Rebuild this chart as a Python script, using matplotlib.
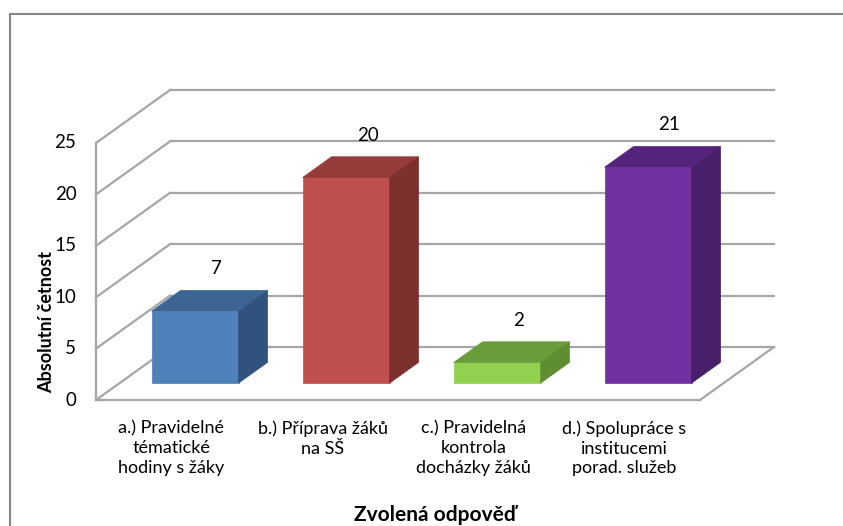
import matplotlib
matplotlib.use("Agg")
import matplotlib.pyplot as plt
from matplotlib.patches import Polygon, Rectangle

plt.rcParams["font.family"] = ["Lato", "DejaVu Sans"]

# data
categories = [
    "a.) Pravidelné\ntématické\nhodiny s žáky",
    "b.) Příprava žáků\nna SŠ",
    "c.) Pravidelná\nkontrola\ndocházky žáků",
    "d.) Spolupráce s\ninstitucemi\nporad. služeb",
]
values = [7, 20, 2, 21]
y_ticks = [0, 5, 10, 15, 20, 25]
front_colors = ["#4F81BD", "#C0504D", "#92D050", "#7030A0"]
top_colors = ["#3D6594", "#953B39", "#6A9D3A", "#56237C"]
side_colors = ["#30527C", "#7B302E", "#5E8E31", "#481F69"]
x_title = "Zvolená odpověď"
y_title = "Absolutní četnost"

# geometry of the oblique projection (front plane in data units)
W, H = 843, 526
PX0, PXW = 96, 151.0      # pixel x of category 0, pixels per category
PY0, PYS = 400, 10.28     # pixel y of value 0, pixels per value unit
DX = 74 / PXW             # depth offset in category units
DY = 53 / PYS             # depth offset in value units
Z0, Z1 = 0.32, 0.71       # bar depth range (fraction of floor depth)
HW = 0.288                # bar half width
GRID = "#A6A6A6"

fig = plt.figure(figsize=(W / 100, H / 100), dpi=100)
ax = fig.add_axes([0, 0, 1, 1])
ax.set_xlim(-PX0 / PXW, (W - PX0) / PXW)
ax.set_ylim((PY0 - H) / PYS, PY0 / PYS)
ax.axis("off")

n = len(values)
vmax = y_ticks[-1]

# back wall gridlines + left wall diagonals
for v in y_ticks:
    ax.plot([DX, n + DX], [v + DY, v + DY], color=GRID, lw=1.6, zorder=1)
    ax.plot([0, DX], [v, v + DY], color=GRID, lw=1.6, zorder=1)
    ax.text(-0.13, v, str(v), ha="right", va="center", fontsize=13.5, color="#000000")

# front axis and floor
ax.plot([0, 0], [0, vmax], color=GRID, lw=1.6, zorder=1)
ax.plot([0, n], [0, 0], color=GRID, lw=1.6, zorder=1)
ax.plot([n, n + DX], [0, DY], color=GRID, lw=1.6, zorder=1)

# 3d bars
for i, v in enumerate(values):
    c = i + 0.5
    x0 = c - HW + Z0 * DX
    x1 = c + HW + Z0 * DX
    yb = Z0 * DY
    yt = yb + v
    ddx = (Z1 - Z0) * DX
    ddy = (Z1 - Z0) * DY
    front = Polygon([(x0, yb), (x1, yb), (x1, yt), (x0, yt)], closed=True,
                    facecolor=front_colors[i], edgecolor=front_colors[i], lw=0.5, zorder=3)
    top = Polygon([(x0, yt), (x1, yt), (x1 + ddx, yt + ddy), (x0 + ddx, yt + ddy)], closed=True,
                  facecolor=top_colors[i], edgecolor=top_colors[i], lw=0.5, zorder=3)
    side = Polygon([(x1, yb), (x1 + ddx, yb + ddy), (x1 + ddx, yt + ddy), (x1, yt)], closed=True,
                   facecolor=side_colors[i], edgecolor=side_colors[i], lw=0.5, zorder=3)
    for p in (front, top, side):
        ax.add_patch(p)
    ax.text(c + Z1 * DX - 0.05, yt + ddy + 2.1, str(v), ha="center", va="center",
            fontsize=13.5, color="#000000", zorder=4)
    ax.text(c, -2.0, categories[i], ha="center", va="top", fontsize=13,
            linespacing=1.27, color="#000000")

# axis titles
ax.text((n + DX) / 2, (PY0 - 515) / PYS, x_title, ha="center", va="center",
        fontsize=15, fontweight="bold")
ax.text((47 - PX0) / PXW, (PY0 - 322) / PYS, y_title, ha="center", va="center",
        rotation=90, fontsize=13, fontweight="bold")

# outer chart border (only left and top visible)
fig.add_artist(Rectangle((10 / W, -0.05), 1.2, 1 - 14 / H + 0.05, transform=fig.transFigure,
                         fill=False, edgecolor="#868686", lw=1.5))

fig.savefig("out.png", dpi=100)
